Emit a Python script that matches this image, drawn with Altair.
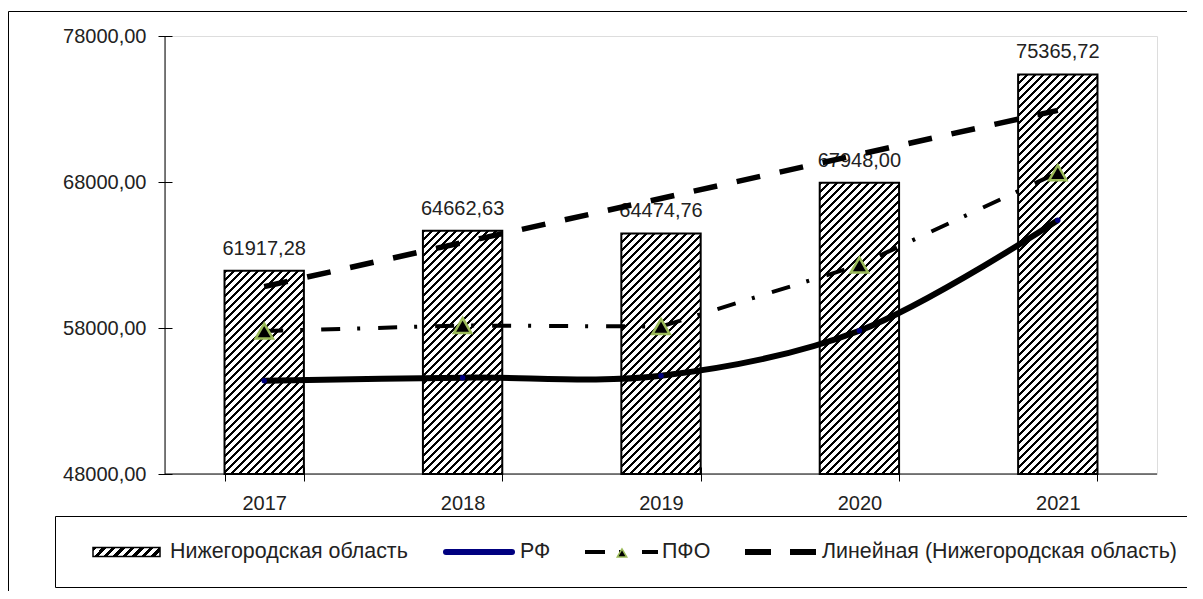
import altair as alt
import pandas as pd
import numpy as np

# ---- data ----
YEARS = ["2017", "2018", "2019", "2020", "2021"]
NIZH = [61917.28, 64662.63, 64474.76, 67948.00, 75365.72]
RF = [54390, 54600, 54730, 57815, 65380]
PFO = [57790, 58170, 58100, 62310, 68640]
SERIES = ["Нижегородская область", "РФ", "ПФО", "Линейная (Нижегородская область)"]
Y_TICKS = [48000, 58000, 68000, 78000]

# ---- layout ----
W, H = 992, 438
YMIN, YMAX = 48000, 78000
PAD_IN = 0.6
FONT = "Liberation Sans"
FS = 20
LFS = 21.4
TXT = "#222222"

df = pd.DataFrame({"year": YEARS, "nizh": NIZH, "rf": RF, "pfo": PFO})
one = pd.DataFrame({"a": [0]})

step = W / len(YEARS)
bw = step * (1 - PAD_IN)


def hatch(w, h, period=8.0, ink=3.2):
    """Diagonal '/' hatching as a hard-stop linear gradient in bbox space."""
    T = w + h
    k = (w + h) / (w * w + h * h)
    stops = []
    n = int(np.ceil(T / period))
    for i in range(n):
        s = min(1.0, i * period / T)
        e1 = min(1.0, (i * period + ink) / T)
        e2 = min(1.0, (i + 1) * period / T)
        stops += [
            {"offset": round(s, 5), "color": "#000000"},
            {"offset": round(e1, 5), "color": "#000000"},
            {"offset": round(e1, 5), "color": "#ffffff"},
            {"offset": round(e2, 5), "color": "#ffffff"},
        ]
    return {"gradient": "linear", "x1": 0, "y1": 0,
            "x2": round(w * k, 5), "y2": round(h * k, 5), "stops": stops}


yscale = alt.Scale(domain=[YMIN, YMAX], nice=False, zero=False)
label_expr = "replace(format(datum.value, '.2f'), '.', ',')"
X = alt.X("year:N", sort=YEARS,
          scale=alt.Scale(domain=YEARS, paddingInner=PAD_IN, paddingOuter=PAD_IN / 2),
          axis=alt.Axis(title=None, labelAngle=0, offset=-7, tickSize=14, domain=False,
                        tickBand="extent", labelPadding=12, labelFontSize=FS,
                        labelColor=TXT, tickColor="#000", labelFont=FONT, grid=False))
YAX = alt.Axis(title=None, values=Y_TICKS, labelExpr=label_expr, offset=-7, tickSize=14,
               domain=False, grid=False, labelPadding=12, labelFontSize=FS,
               labelColor=TXT, tickColor="#000", labelFont=FONT)

base = alt.Chart(df)

layers = []
for i, yr in enumerate(YEARS):
    h = (NIZH[i] - YMIN) / (YMAX - YMIN) * H
    layers.append(
        base.transform_filter(alt.datum.year == yr)
        .mark_bar(fill=hatch(bw, h), stroke="black", strokeWidth=2)
        .encode(x=X, y=alt.Y("nizh:Q", scale=yscale, axis=YAX), y2=alt.datum(YMIN))
    )

labels = base.transform_calculate(
    lbl="replace(format(datum.nizh, '.2f'), '.', ',')"
).mark_text(dy=-16, baseline="alphabetic", fontSize=FS, font=FONT, color=TXT).encode(
    x=X, y=alt.Y("nizh:Q", scale=yscale, axis=YAX), text="lbl:N")

rf_line = base.mark_line(color="black", strokeWidth=6, interpolate="catmull-rom").encode(
    x=X, y=alt.Y("rf:Q", scale=yscale, axis=YAX))
rf_pts = base.mark_point(filled=True, color="#000080", size=30, opacity=1).encode(
    x=X, y=alt.Y("rf:Q", scale=yscale, axis=YAX))

pfo_line = base.mark_line(color="black", strokeWidth=4, strokeDash=[19, 17, 3, 18]).encode(
    x=X, y=alt.Y("pfo:Q", scale=yscale, axis=YAX))
pfo_pts = base.mark_point(shape="triangle-up", filled=True, fill="black", stroke="#9BBB59",
                          strokeWidth=2.5, size=300, opacity=1).encode(
    x=X, y=alt.Y("pfo:Q", scale=yscale, axis=YAX))


def hrule(x1, x2, y, **kw):
    return alt.Chart(one).mark_rule(color="black", strokeWidth=1, **kw).encode(
        x=alt.value(x1), x2=alt.value(x2), y=alt.value(y))


def vrule(x, y1, y2, **kw):
    return alt.Chart(one).mark_rule(color="black", strokeWidth=1, **kw).encode(
        x=alt.value(x), y=alt.value(y1), y2=alt.value(y2))


# axis lines
xdom = hrule(0, W, H)
ydom = vrule(0, 0, H)

# outer frame (continues past the right and bottom edges) and legend box
FR = W + 80
frame_top = hrule(-156.5, FR, -24.5)
frame_left = vrule(-156.5, -24.5, H + 160)
lbox_top = hrule(-109.5, FR, 480.5)
lbox_bot = hrule(-109.5, FR, 551.5)
lbox_left = vrule(-109.5, 480.5, 551.5)

LY = 516
leg_hatch = alt.Chart(one).mark_rect(fill=hatch(67, 9, period=9.5, ink=4.5), stroke="black",
                                     strokeWidth=1.5).encode(
    x=alt.value(-72), x2=alt.value(-5), y=alt.value(LY - 4.5), y2=alt.value(LY + 4.5))


def leg_text(txt, x):
    return alt.Chart(one).mark_text(text=txt, align="left", baseline="middle", fontSize=LFS,
                                    font=FONT, color=TXT).encode(x=alt.value(x), y=alt.value(LY))


leg_rf = alt.Chart(one).mark_rule(color="#000080", strokeWidth=6, strokeCap="round").encode(
    x=alt.value(281), x2=alt.value(347), y=alt.value(LY))
leg_pfo = alt.Chart(one).mark_rule(color="black", strokeWidth=4,
                                   strokeDash=[20, 14, 3, 20]).encode(
    x=alt.value(420), x2=alt.value(493), y=alt.value(LY))
leg_tri = alt.Chart(one).mark_point(shape="triangle-up", filled=True, fill="black",
                                    stroke="#9BBB59", strokeWidth=1.5, size=90, opacity=1).encode(
    x=alt.value(457), y=alt.value(LY + 1))
leg_trend = alt.Chart(one).mark_rule(color="black", strokeWidth=6,
                                     strokeDash=[26, 19]).encode(
    x=alt.value(580), x2=alt.value(652), y=alt.value(LY))

inner = alt.layer(
    *layers, labels, rf_line, rf_pts, pfo_line, pfo_pts, xdom, ydom,
    frame_top, frame_left, lbox_top, lbox_bot, lbox_left,
    leg_hatch, leg_text(SERIES[0], 5), leg_rf, leg_text(SERIES[1], 355),
    leg_pfo, leg_tri, leg_text(SERIES[2], 497), leg_trend, leg_text(SERIES[3], 657),
)

trend = base.transform_calculate(yn="toNumber(datum.year)").transform_regression(
    "yn", "nizh", method="linear"
).mark_line(color="black", strokeWidth=5.5, strokeDash=[24, 20]).encode(
    x=alt.X("yn:Q", scale=alt.Scale(domain=[2016.5, 2021.5], nice=False, zero=False), axis=None),
    y=alt.Y("nizh:Q", scale=yscale, axis=YAX),
)

chart = alt.layer(inner, trend).resolve_scale(x="independent").properties(
    width=W, height=H,
    padding={"left": 157, "top": 28, "right": 30, "bottom": 117},
    autosize=alt.AutoSizeParams(type="none"),
    background="white",
).configure_view(strokeWidth=0).configure(font=FONT)

chart.save("out.html", embed_options={"renderer": "svg", "actions": False})
